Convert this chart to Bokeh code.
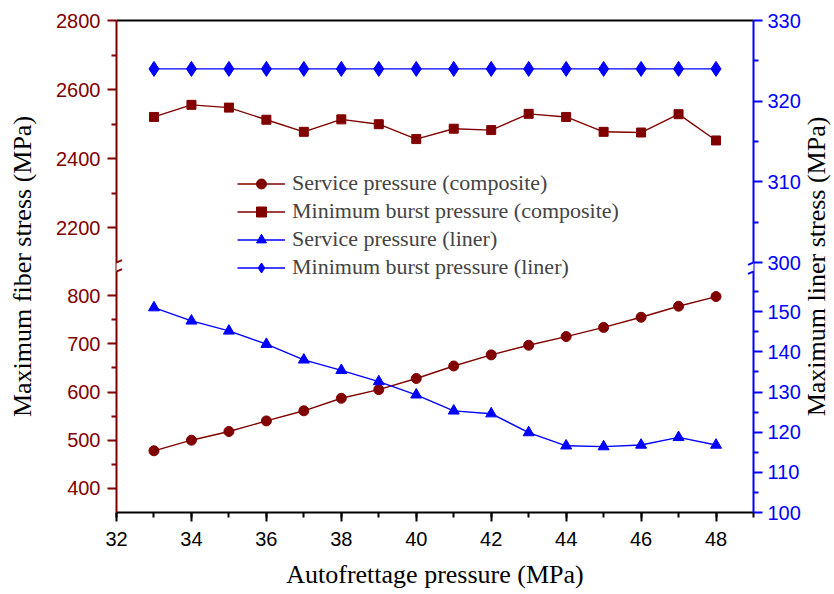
import math
from bokeh.plotting import figure
from bokeh.layouts import row
from bokeh.models import (Range1d, LinearAxis, FixedTicker, CustomJSTickFormatter,
                          Legend, LegendItem, Arrow, SingleIntervalTicker, Label)
from bokeh.embed import file_html
from bokeh.resources import INLINE

# ---------------- data ----------------
autofrettage = [33, 34, 35, 36, 37, 38, 39, 40, 41, 42, 43, 44, 45, 46, 47, 48]
fiber_service = [478, 500, 518, 540, 561, 587, 605, 628, 654, 677, 697, 715, 734, 755, 778, 798]
fiber_burst = [2521, 2556, 2548, 2513, 2478, 2514, 2500, 2457, 2487, 2483, 2530, 2521, 2478, 2476, 2529, 2453]
liner_service = [151.0, 147.7, 145.2, 141.9, 138.0, 135.4, 132.6, 129.3, 125.3, 124.6, 119.9, 116.6, 116.4, 116.8, 118.7, 116.8]
liner_burst = [324.0, 324.0, 324.0, 324.0, 324.0, 324.0, 324.0, 324.0, 324.0, 324.0, 324.0, 324.0, 324.0, 324.0, 324.0, 324.0]

labels = ["Service pressure (composite)", "Minimum burst pressure (composite)",
          "Service pressure (liner)", "Minimum burst pressure (liner)"]
x_title = "Autofrettage pressure (MPa)"
left_title = "Maximum fiber stress (MPa)"
right_title = "Maximum liner stress (MPa)"

fiber_low_major = [400, 500, 600, 700, 800]
fiber_low_minor = [450, 550, 650, 750]
fiber_high_major = [2200, 2400, 2600, 2800]
fiber_high_minor = [2300, 2500, 2700]
liner_low_major = [100, 110, 120, 130, 140, 150]
liner_low_minor = [105, 115, 125, 135, 145, 155]
liner_high_major = [300, 310, 320, 330]
liner_high_minor = [305, 315, 325]

# visible extents of the two panels of the broken axes
fiber_low = (350, 850)
fiber_high = (2100, 2800)
liner_low = (100, 160)
liner_high = (300, 330)
x_extent = (32, 49)

# ---------------- layout ----------------
FRAME_W, FRAME_H = 637, 492
BORDER_L, BORDER_T, BORDER_R = 116, 20, 50
TITLE_W = 834 - BORDER_L - FRAME_W - BORDER_R
LOW_FRAC = 241 / 492
GAP_FRAC = 9 / 492
HIGH_START = LOW_FRAC + GAP_FRAC

RED = "#800000"
BLUE = "#0000FF"


def full_range(lo, hi, f0, f1):
    span = (hi - lo) / (f1 - f0)
    start = lo - f0 * span
    return (start, start + span)


FL = full_range(*fiber_low, 0.0, LOW_FRAC)
FH = full_range(*fiber_high, HIGH_START, 1.0)
LL = full_range(*liner_low, 0.0, LOW_FRAC)
LH = full_range(*liner_high, HIGH_START, 1.0)


def to_low(v, high_full, low_full):
    f = (v - high_full[0]) / (high_full[1] - high_full[0])
    return low_full[0] + f * (low_full[1] - low_full[0])


def at_frac(f, rng):
    return rng[0] + f * (rng[1] - rng[0])


p = figure(frame_width=FRAME_W, frame_height=FRAME_H,
           x_range=Range1d(*x_extent), y_range=Range1d(*FL),
           y_axis_location=None, output_backend="svg", toolbar_location=None,
           min_border_left=BORDER_L, min_border_top=BORDER_T, min_border_right=BORDER_R,
           min_border_bottom=0,
           background_fill_color="white", border_fill_color="white")
p.outline_line_color = None
p.grid.visible = False
p.extra_y_ranges = {"liner_low": Range1d(*LL), "fiber_high": Range1d(*FH),
                    "liner_high": Range1d(*LH)}

TICK_FONT = "Liberation Sans"
SERIF = "Liberation Serif"


def style_axis(ax, color):
    ax.axis_line_color = color
    ax.axis_line_width = 2
    ax.major_tick_line_color = color
    ax.major_tick_line_width = 2
    ax.minor_tick_line_color = color
    ax.minor_tick_line_width = 2
    ax.major_tick_out = 9
    ax.major_tick_in = 0
    ax.minor_tick_out = 5
    ax.minor_tick_in = 0
    ax.major_label_text_color = color
    ax.major_label_text_font = TICK_FONT
    ax.major_label_text_font_size = "20px"
    ax.axis_label_text_font = SERIF
    ax.axis_label_text_font_size = "26px"
    ax.axis_label_text_font_style = "normal"
    ax.axis_label_text_color = "black"


# x axis
xa = p.xaxis[0]
xa.ticker = SingleIntervalTicker(interval=2, num_minor_ticks=2)
style_axis(xa, "black")
xa.axis_label = x_title
xa.major_label_standoff = 10
xa.axis_label_standoff = 11

# top border
top = LinearAxis(ticker=FixedTicker(ticks=[]), major_label_text_font_size="0px",
                 axis_line_color="black", axis_line_width=2,
                 major_tick_line_color=None, minor_tick_line_color=None)
p.add_layout(top, "above")

fmt_code = """
if (tick > brk) {
  const v = hs + (tick - ls) / (le - ls) * (he - hs);
  return Math.round(v).toString();
}
return Math.round(tick).toString();
"""

brk_fiber = at_frac(LOW_FRAC + GAP_FRAC / 2, FL)
left = LinearAxis(
    ticker=FixedTicker(
        ticks=fiber_low_major + [to_low(v, FH, FL) for v in fiber_high_major],
        minor_ticks=fiber_low_minor + [to_low(v, FH, FL) for v in fiber_high_minor]),
    formatter=CustomJSTickFormatter(args=dict(ls=FL[0], le=FL[1], hs=FH[0], he=FH[1], brk=brk_fiber),
                                    code=fmt_code),
    axis_label=left_title)
style_axis(left, RED)
left.major_label_standoff = 7
left.axis_label_standoff = 16
p.add_layout(left, "left")

brk_liner = at_frac(LOW_FRAC + GAP_FRAC / 2, LL)
right = LinearAxis(
    y_range_name="liner_low",
    ticker=FixedTicker(
        ticks=liner_low_major + [to_low(v, LH, LL) for v in liner_high_major],
        minor_ticks=liner_low_minor + [to_low(v, LH, LL) for v in liner_high_minor]),
    formatter=CustomJSTickFormatter(args=dict(ls=LL[0], le=LL[1], hs=LH[0], he=LH[1], brk=brk_liner),
                                    code=fmt_code))
style_axis(right, BLUE)
right.major_label_standoff = 5
p.add_layout(right, "right")

# ---------------- series ----------------
LW = 1.4
r1l = p.line(autofrettage, fiber_service, color=RED, line_width=LW)
r1m = p.scatter(autofrettage, fiber_service, marker="circle", size=10, color=RED)
r2l = p.line(autofrettage, fiber_burst, color=RED, line_width=LW, y_range_name="fiber_high")
r2m = p.scatter(autofrettage, fiber_burst, marker="square", size=9, color=RED, y_range_name="fiber_high")
r3l = p.line(autofrettage, liner_service, color=BLUE, line_width=LW, y_range_name="liner_low")
r3m = p.scatter(autofrettage, liner_service, marker="triangle", size=11, color=BLUE, y_range_name="liner_low")
r4l = p.line(autofrettage, liner_burst, color=BLUE, line_width=LW, y_range_name="liner_high")
r4m = p.scatter(autofrettage, liner_burst, marker="diamond", size=15, color=BLUE, y_range_name="liner_high")

legend = Legend(items=[LegendItem(label=labels[0], renderers=[r1l, r1m]),
                       LegendItem(label=labels[1], renderers=[r2l, r2m]),
                       LegendItem(label=labels[2], renderers=[r3l, r3m]),
                       LegendItem(label=labels[3], renderers=[r4l, r4m])],
                location=(121, 232), padding=0, margin=0, spacing=2,
                glyph_width=48, glyph_height=25, label_height=25, label_standoff=7,
                label_text_font=SERIF, label_text_font_size="22px",
                border_line_color=None, background_fill_alpha=0)
p.add_layout(legend)

# ---------------- axis break marks ----------------
x_ppu = FRAME_W / (x_extent[1] - x_extent[0])
y_ppu = FRAME_H / (FL[1] - FL[0])
gap_lo = at_frac(LOW_FRAC, FL)
gap_hi = at_frac(HIGH_START, FL)
dx = 5.5 / x_ppu
dy = 2.3 / y_ppu
for xpos, col in ((x_extent[0], RED), (x_extent[1], BLUE)):
    p.add_layout(Arrow(end=None, x_start=xpos, y_start=gap_lo, x_end=xpos, y_end=gap_hi,
                       line_color="white", line_width=5))
    for c in (gap_lo, gap_hi):
        p.add_layout(Arrow(end=None, x_start=xpos - dx, y_start=c - dy, x_end=xpos + dx, y_end=c + dy,
                           line_color=col, line_width=2))

# ---------------- right-hand title (reads bottom-to-top, like the left one) ----------------
t = figure(frame_width=TITLE_W, frame_height=FRAME_H, x_range=Range1d(0, TITLE_W),
           y_range=Range1d(0, FRAME_H), x_axis_location=None, y_axis_location=None,
           min_border_left=0, min_border_right=0, min_border_top=BORDER_T, min_border_bottom=0,
           output_backend="svg", toolbar_location=None,
           background_fill_color="white", border_fill_color="white")
t.outline_line_color = None
t.grid.visible = False
t.add_layout(Label(x=13, y=FRAME_H / 2, text=right_title,
                   angle=math.pi / 2, text_align="center", text_baseline="middle",
                   text_font=SERIF, text_font_size="26px", text_color="black"))

layout = row(p, t, spacing=0)
open("out.html", "w").write(file_html(layout, INLINE))
